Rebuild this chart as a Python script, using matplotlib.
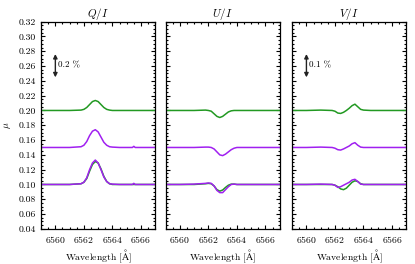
import matplotlib
matplotlib.use("Agg")
import matplotlib.pyplot as plt
from matplotlib.ticker import MultipleLocator

plt.rcParams['font.family'] = ['cmr10', 'DejaVu Serif']
plt.rcParams['mathtext.fontset'] = 'cm'
plt.rcParams['axes.formatter.use_mathtext'] = True

# wavelength samples [A]
wl = [6559.0, 6560.0, 6561.0, 6561.8, 6562.0, 6562.2, 6562.4, 6562.6, 6562.8,
      6563.0, 6563.2, 6563.4, 6563.6, 6563.8, 6564.0, 6564.5, 6565.0, 6565.4,
      6565.5, 6565.6, 6566.0, 6567.0]

# Q/I
q_top_g = [0.200, 0.200, 0.200, 0.2005, 0.2015, 0.204, 0.208, 0.212, 0.2135,
           0.212, 0.208, 0.204, 0.2015, 0.2005, 0.200, 0.200, 0.200, 0.200,
           0.200, 0.200, 0.200, 0.200]
q_mid_m = [0.150, 0.150, 0.150, 0.151, 0.153, 0.158, 0.166, 0.172, 0.174,
           0.171, 0.164, 0.157, 0.153, 0.151, 0.1505, 0.150, 0.150, 0.150,
           0.1515, 0.150, 0.150, 0.150]
q_bot_g = [0.100, 0.100, 0.100, 0.101, 0.103, 0.108, 0.118, 0.127, 0.131,
           0.129, 0.121, 0.111, 0.104, 0.101, 0.100, 0.100, 0.100, 0.100,
           0.100, 0.100, 0.100, 0.100]
q_bot_m = [0.100, 0.100, 0.100, 0.101, 0.103, 0.109, 0.120, 0.129, 0.133,
           0.129, 0.120, 0.110, 0.104, 0.101, 0.1005, 0.100, 0.100, 0.100,
           0.1015, 0.100, 0.100, 0.100]

# U/I
u_top_g = [0.200, 0.200, 0.200, 0.2005, 0.200, 0.199, 0.1955, 0.192, 0.1905,
           0.192, 0.195, 0.198, 0.1995, 0.200, 0.200, 0.200, 0.200, 0.200,
           0.200, 0.200, 0.200, 0.200]
u_mid_m = [0.150, 0.150, 0.150, 0.1505, 0.1505, 0.150, 0.148, 0.144, 0.140,
           0.139, 0.141, 0.144, 0.147, 0.149, 0.150, 0.150, 0.150, 0.150,
           0.150, 0.150, 0.150, 0.150]
u_bot_g = [0.100, 0.100, 0.100, 0.101, 0.1015, 0.101, 0.098, 0.093, 0.091,
           0.0925, 0.096, 0.099, 0.1005, 0.1005, 0.100, 0.100, 0.100, 0.100,
           0.100, 0.100, 0.100, 0.100]
u_bot_m = [0.100, 0.100, 0.1005, 0.1015, 0.102, 0.1015, 0.098, 0.092, 0.089,
           0.089, 0.093, 0.097, 0.100, 0.1005, 0.100, 0.100, 0.100, 0.100,
           0.100, 0.100, 0.100, 0.100]

# V/I
v_top_g = [0.200, 0.200, 0.2005, 0.200, 0.199, 0.1965, 0.196, 0.1975, 0.200,
           0.203, 0.2065, 0.2085, 0.205, 0.2015, 0.2005, 0.200, 0.200, 0.200,
           0.200, 0.200, 0.200, 0.200]
v_mid_m = [0.150, 0.150, 0.1505, 0.150, 0.149, 0.147, 0.1465, 0.148, 0.150,
           0.152, 0.155, 0.1565, 0.153, 0.1505, 0.150, 0.150, 0.150, 0.150,
           0.150, 0.150, 0.150, 0.150]
v_bot_g = [0.100, 0.100, 0.100, 0.100, 0.099, 0.097, 0.094, 0.093, 0.095,
           0.099, 0.103, 0.105, 0.104, 0.101, 0.100, 0.100, 0.100, 0.100,
           0.100, 0.100, 0.100, 0.100]
v_bot_m = [0.100, 0.100, 0.1005, 0.100, 0.099, 0.096, 0.097, 0.099, 0.101,
           0.103, 0.106, 0.107, 0.104, 0.1005, 0.100, 0.100, 0.100, 0.100,
           0.100, 0.100, 0.100, 0.100]

titles = ['$Q/I$', '$U/I$', '$V/I$']
scales = ['0.2 %', None, '0.1 %']
green = '#229922'
purple = '#a020f0'

panels = [
    [(q_top_g, green), (q_mid_m, purple), (q_bot_g, green), (q_bot_m, purple)],
    [(u_top_g, green), (u_mid_m, purple), (u_bot_g, green), (u_bot_m, purple)],
    [(v_top_g, green), (v_mid_m, purple), (v_bot_g, green), (v_bot_m, purple)],
]

fig = plt.figure(figsize=(4.15, 2.64), dpi=100)
lefts = [0.099, 0.399, 0.704]

for i in range(3):
    ax = fig.add_axes([lefts[i], 0.133, 0.275, 0.785])
    for ys, c in panels[i]:
        ax.plot(wl, ys, color=c, lw=1.1)
    ax.set_xlim(6559, 6567)
    ax.set_ylim(0.04, 0.32)
    ax.xaxis.set_major_locator(MultipleLocator(2))
    ax.xaxis.set_minor_locator(MultipleLocator(0.5))
    ax.yaxis.set_major_locator(MultipleLocator(0.02))
    ax.yaxis.set_minor_locator(MultipleLocator(0.005))
    ax.tick_params(which='both', direction='in', top=True, right=True,
                   labelsize=7, width=0.8)
    ax.tick_params(which='major', length=3)
    ax.tick_params(which='minor', length=1.5)
    ax.set_title(titles[i], fontsize=8, pad=2)
    ax.set_xlabel(r'Wavelength [$\mathrm{\AA}$]', fontsize=7, labelpad=2)
    if i == 0:
        ax.set_ylabel(r'$\mu$', fontsize=7)
        ax.yaxis.set_major_formatter(plt.FormatStrFormatter('%.2f'))
    else:
        ax.set_yticklabels([])
    if scales[i] is not None:
        ax.annotate('', xy=(6560.0, 0.280), xytext=(6560.0, 0.241),
                    arrowprops=dict(arrowstyle='<|-|>', color='#222222',
                                    lw=1.0, mutation_scale=6))
        ax.text(6560.2, 0.2605, scales[i], fontsize=6.5, va='center')
    for s in ax.spines.values():
        s.set_linewidth(0.9)

fig.savefig('out.png', dpi=100)
